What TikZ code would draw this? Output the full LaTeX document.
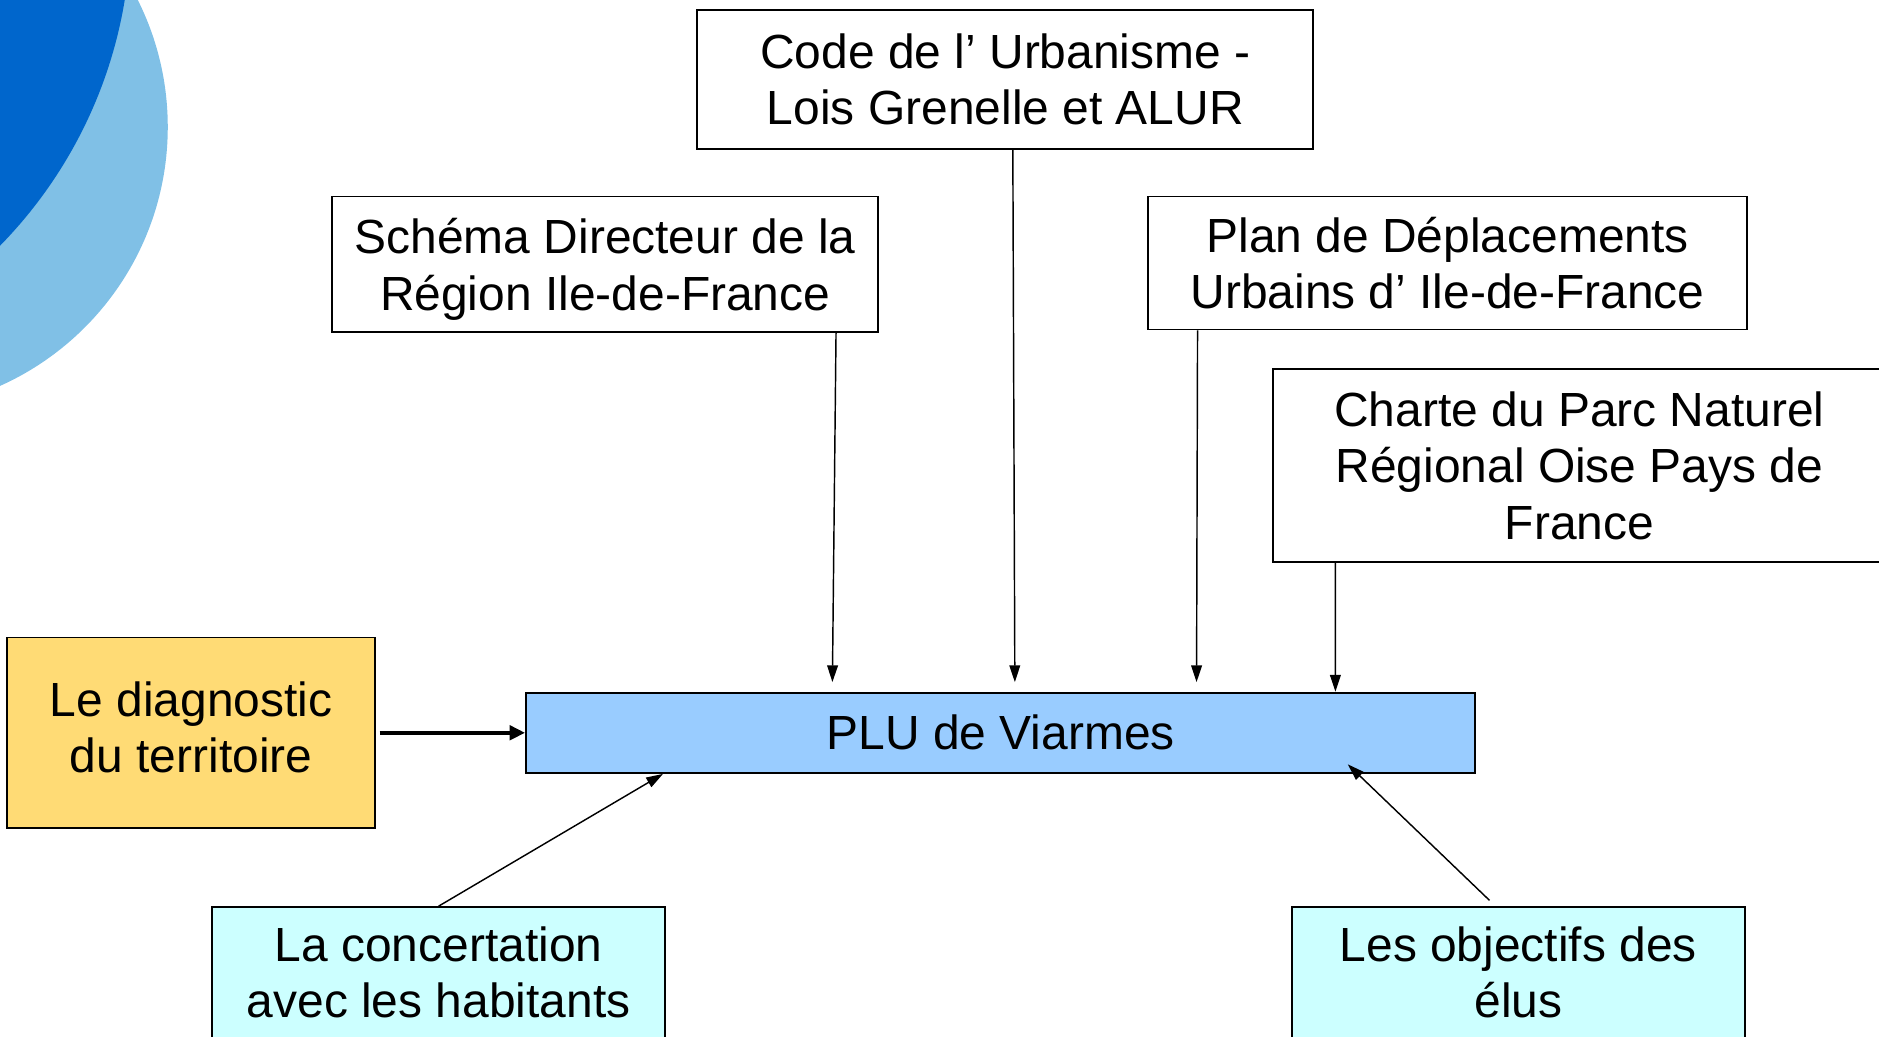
\documentclass[tikz,border=0pt]{standalone}
\usepackage{fontspec}
\setmainfont{Liberation Sans}
\usetikzlibrary{calc,arrows.meta}
\definecolor{roundDark}{HTML}{0066CC}
\definecolor{roundLight}{HTML}{80C0E6}
\definecolor{diagFill}{HTML}{FFDB75}
\definecolor{pluFill}{HTML}{99CCFF}
\definecolor{cyanFill}{HTML}{CCFFFF}

\begin{document}
\begin{tikzpicture}[x=0.5pt,y=-0.5pt,
        box/.style={draw=black,line width=0.8pt,inner sep=0pt,align=center,
            font=\fontsize{20}{23.5}\selectfont},
        link/.style={-{Triangle[length=7pt,width=4.5pt]},line width=0.6pt},
        thicklink/.style={-{Triangle[length=6.5pt,width=6pt]},line width=1.7pt}]
        \useasboundingbox (0,0) rectangle (1568,865);
        \clip (0,0) rectangle (1568,865);
        \fill[roundLight] (-96.6,106) circle (118.3pt);
        \fill[roundDark] (-273.5,-62.6) circle (191.35pt);

        \node[box,minimum width=257pt,minimum height=58pt] (code) at (839,66)
            {Code de l’ Urbanisme -\\Lois Grenelle et ALUR};
        \node[box,text depth=0pt,minimum width=228pt,minimum height=56.5pt] (sdrif) at (505,220.5)
            {Schéma Directeur de la\\Région Ile-de-France};
        \node[box,minimum width=250pt,minimum height=55.5pt] (pdu) at (1208,219.5)
            {Plan de Déplacements\\Urbains d’ Ile-de-France};
        \node[box,minimum width=256pt,minimum height=80.5pt] (charte) at (1318,388.5)
            {Charte du Parc Naturel\\Régional Oise Pays de\\France};
        \node[box,text depth=5pt,fill=diagFill,minimum width=153.5pt,minimum height=79.5pt] (diag) at (159.5,611.5)
            {Le diagnostic\\du territoire};
        \node[box,fill=pluFill,minimum width=396pt,minimum height=33.5pt] (plu) at (835,611.5)
            {PLU de Viarmes};
        \node[box,fill=cyanFill,minimum width=189pt,minimum height=54.5pt] (concert) at (366,811.5)
            {La concertation\\avec les habitants};
        \node[box,fill=cyanFill,minimum width=189pt,minimum height=54.5pt] (elus) at (1267,811.5)
            {Les objectifs des\\élus};

        \draw[link,shorten >=4pt] ($(sdrif.south west)!0.921!(sdrif.south east)$)
            -- ($(plu.north west)!0.323!(plu.north east)$);
        \draw[link,shorten >=4pt] ($(code.south west)!0.512!(code.south east)$)
            -- ($(plu.north west)!0.515!(plu.north east)$);
        \draw[link,shorten >=4pt] ($(pdu.south west)!0.084!(pdu.south east)$)
            -- ($(plu.north west)!0.706!(plu.north east)$);
        \draw[link] ($(charte.south west)!0.1035!(charte.south east)$)
            -- ($(plu.north west)!0.852!(plu.north east)$);
        \draw[thicklink,shorten <=1.5pt] (diag.east) -- (plu.west);
        \draw[link] (concert.north) -- ($(plu.south west)!0.145!(plu.south east)$);
        \draw[link,shorten <=3.5pt] ($(elus.north west)!0.45!(elus.north east)$)
            -- ($(plu.south west)!0.865!(plu.south east)+(0,-8)$);
    \end{tikzpicture}
\end{document}
